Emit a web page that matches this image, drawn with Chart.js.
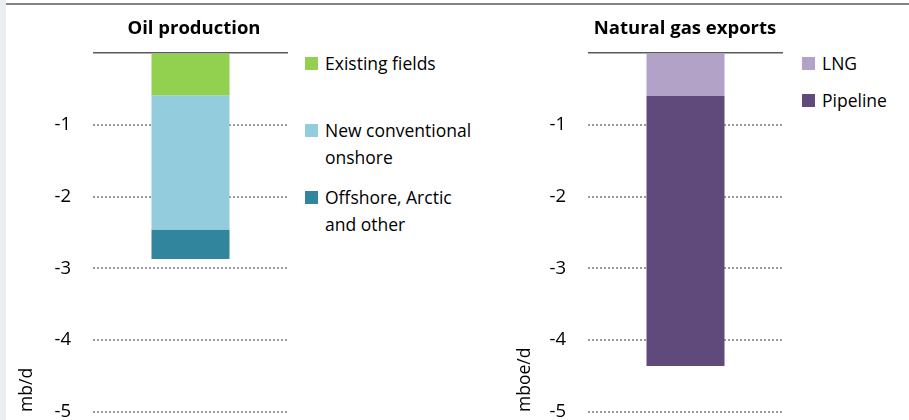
<!DOCTYPE html>
<html lang="en">

<head>
    <meta charset="UTF-8">
    <title>Oil production and natural gas exports</title>
    <script src="https://cdn.jsdelivr.net/npm/chart.js"></script>
    <style>
        body {
            margin: 0;
            width: 909px;
            height: 420px;
            overflow: hidden;
            background: #ffffff;
            font-family: 'Open Sans', sans-serif;
            color: #000000;
            position: relative;
        }

        .side-strip {
            position: absolute;
            left: 0;
            top: 0;
            width: 6px;
            height: 420px;
            background: #e9eef3;
        }

        .top-rule {
            position: absolute;
            left: 6px;
            right: 0;
            top: 3px;
            height: 2px;
            background: #808285;
        }

        .panel {
            position: absolute;
            top: 0;
            width: 282px;
            height: 445px;
        }

        .panel-title {
            position: absolute;
            top: 14px;
            width: 194px;
            text-align: center;
            font-weight: 700;
            font-size: 18.5px;
            white-space: nowrap;
        }

        .legend {
            position: absolute;
            top: 50px;
            font-size: 17.5px;
            line-height: 27px;
        }

        .legend-item {
            display: flex;
            align-items: flex-start;
        }

        .swatch {
            width: 13px;
            height: 13px;
            margin-top: 7px;
            margin-right: 7px;
            flex: none;
        }
    </style>
</head>

<body>
    <div class="side-strip"></div>
    <div class="top-rule"></div>

    <div class="panel" style="left: 6px;"><canvas id="oilChart"></canvas></div>
    <div class="panel" style="left: 501px;"><canvas id="gasChart"></canvas></div>

    <div class="panel-title" style="left: 97px;">Oil production</div>
    <div class="panel-title" style="left: 588px;">Natural gas exports</div>

    <div class="legend" id="oilLegend" style="left: 305px; width: 175px;"></div>
    <div class="legend" id="gasLegend" style="left: 802px; width: 100px;"></div>

    <script>
        const oilSeries = ['Existing fields', 'New conventional onshore', 'Offshore, Arctic and other'];
        const oilValues = [-0.59, -1.87, -0.41];
        const oilColors = ['#92d050', '#93cddd', '#31859c'];

        const gasSeries = ['LNG', 'Pipeline'];
        const gasValues = [-0.6, -3.76];
        const gasColors = ['#b3a2c7', '#604a7b'];

        const yTicks = [0, -1, -2, -3, -4, -5];

        function createChart(canvasId, series, values, colors, unit, titlePad) {
            const ctx = document.getElementById(canvasId).getContext('2d');
            return new Chart(ctx, {
                type: 'bar',
                data: {
                    labels: [''],
                    datasets: series.map((name, i) => ({
                        label: name,
                        data: [values[i]],
                        backgroundColor: colors[i],
                        borderWidth: 0,
                        barPercentage: 0.4,
                        categoryPercentage: 1
                    }))
                },
                options: {
                    responsive: true,
                    maintainAspectRatio: false,
                    animation: false,
                    layout: { padding: { top: 53, right: 0, bottom: 0, left: 0 } },
                    plugins: {
                        legend: { display: false },
                        title: { display: false },
                        tooltip: { enabled: false }
                    },
                    scales: {
                        x: {
                            stacked: true,
                            display: false
                        },
                        y: {
                            stacked: true,
                            min: -5,
                            max: 0,
                            afterBuildTicks: (scale) => {
                                scale.ticks = yTicks.map(v => ({ value: v }));
                            },
                            afterFit: (scale) => {
                                scale.width = 87;
                            },
                            ticks: {
                                padding: 22,
                                color: '#000000',
                                font: { family: 'Open Sans', size: 18.5 },
                                callback: (v) => v === 0 ? '' : v
                            },
                            grid: {
                                drawTicks: false,
                                color: (c) => c.tick && c.tick.value === 0 ? '#595959' : '#9a9a9a',
                                lineWidth: (c) => c.tick && c.tick.value === 0 ? 1.5 : 2
                            },
                            border: {
                                display: false,
                                dash: (c) => c.tick && c.tick.value === 0 ? [] : [2, 2]
                            },
                            title: {
                                display: true,
                                text: unit,
                                align: 'start',
                                color: '#000000',
                                font: { family: 'Open Sans', size: 17.5 },
                                padding: { top: titlePad, bottom: 0 }
                            }
                        }
                    }
                }
            });
        }

        function createLegend(containerId, series, colors, itemHeight) {
            const container = document.getElementById(containerId);
            series.forEach((name, i) => {
                const item = document.createElement('div');
                item.className = 'legend-item';
                item.style.height = itemHeight + 'px';
                const swatch = document.createElement('span');
                swatch.className = 'swatch';
                swatch.style.background = colors[i];
                const text = document.createElement('span');
                text.innerText = name;
                item.appendChild(swatch);
                item.appendChild(text);
                container.appendChild(item);
            });
        }

        createChart('oilChart', oilSeries, oilValues, oilColors, 'mb/d', 11);
        createChart('gasChart', gasSeries, gasValues, gasColors, 'mboe/d', 14);
        createLegend('oilLegend', oilSeries, oilColors, 67);
        createLegend('gasLegend', gasSeries, gasColors, 37);
    </script>
</body>

</html>
